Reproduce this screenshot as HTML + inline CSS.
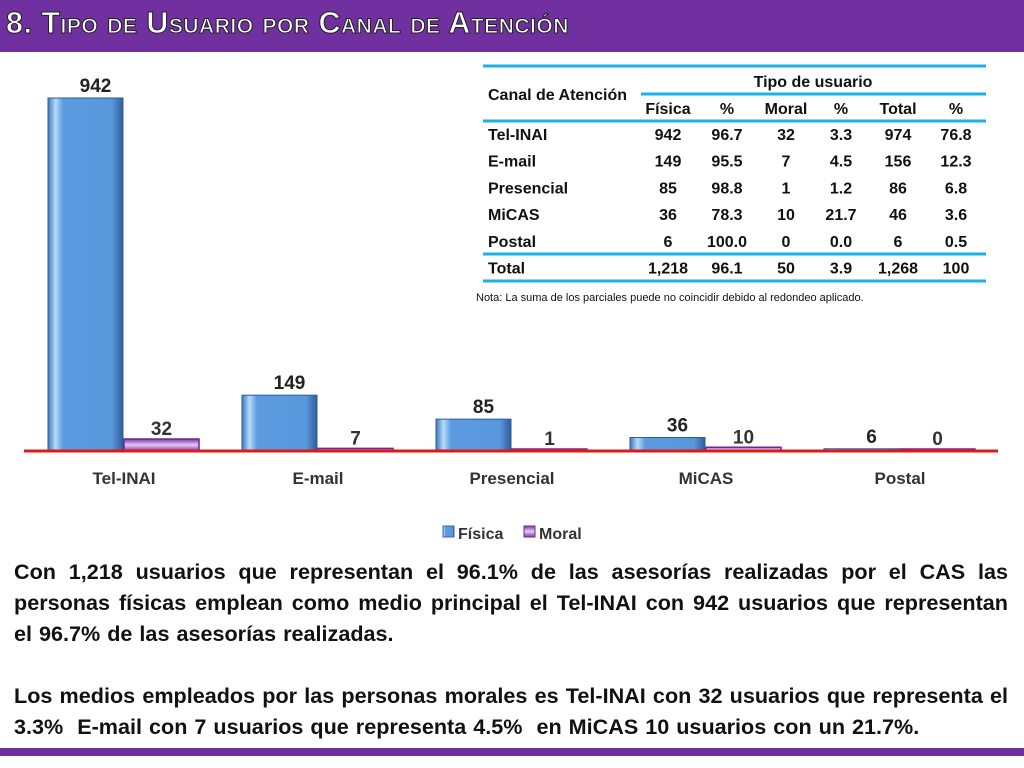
<!DOCTYPE html>
<html><head><meta charset="utf-8"><style>
body{margin:0;width:1024px;height:768px;overflow:hidden;background:#fff;font-family:"Liberation Sans",sans-serif;position:relative}
#title{position:absolute;left:0;top:0;width:1024px;height:52px;background:#7030a0}
#title span{position:absolute;left:6px;top:6px;font:bold 30.5px "Liberation Sans",sans-serif;color:#fff;font-variant:small-caps;-webkit-text-stroke:1px #222;letter-spacing:0.5px}
.para{position:absolute;left:14px;width:994px;font-weight:bold;font-size:21.6px;word-spacing:1px;line-height:31px;text-align:justify;text-align-last:left;color:#111}
.jl{text-align-last:justify}
#bottom{position:absolute;left:0;top:748px;width:1024px;height:8px;background:#7030a0}
</style></head><body>
<div id="title"><span>8. Tipo de Usuario por Canal de Atención</span></div>
<svg id="chart" width="1024" height="560" style="position:absolute;left:0;top:0">
<defs>
<linearGradient id="gb" x1="0" x2="1"><stop offset="0" stop-color="#3a78c0"/><stop offset=".1" stop-color="#b8dcf8"/><stop offset=".2" stop-color="#5b9be0"/><stop offset=".85" stop-color="#5a98dc"/><stop offset="1" stop-color="#2e5e9a"/></linearGradient>
<linearGradient id="gm" x1="0" x2="0" y1="0" y2="1"><stop offset="0" stop-color="#7a3aa0"/><stop offset=".5" stop-color="#e8c8f8"/><stop offset="1" stop-color="#7a3aa0"/></linearGradient>
</defs>
<g id="bars"></g>
<line x1="24" x2="998" y1="451" y2="451" stroke="#e01818" stroke-width="3"/>
<g id="legend">
<rect x="443" y="526" width="11" height="11" fill="url(#gb)" stroke="#3a6aa0"/>
<text x="458" y="539" font-size="16" font-weight="bold" fill="#333">Física</text>
<rect x="524" y="526" width="11" height="11" fill="url(#gm)" stroke="#6a2a90"/>
<text x="539" y="539" font-size="16" font-weight="bold" fill="#333">Moral</text>
</g>
<g id="table">
<line x1="483" x2="986" y1="66" y2="66" stroke="#1ab0e8" stroke-width="3"/>
<line x1="641" x2="986" y1="94" y2="94" stroke="#1ab0e8" stroke-width="3"/>
<line x1="483" x2="986" y1="121" y2="121" stroke="#1ab0e8" stroke-width="3"/>
<line x1="483" x2="986" y1="254" y2="254" stroke="#1ab0e8" stroke-width="3"/>
<line x1="483" x2="986" y1="281" y2="281" stroke="#1ab0e8" stroke-width="3"/>
<text x="488" y="100" font-size="16" font-weight="bold" fill="#111">Canal de Atención</text>
<text x="813" y="87" font-size="16" font-weight="bold" fill="#111" text-anchor="middle">Tipo de usuario</text>
</g>
<text x="476" y="301" font-size="11" fill="#111">Nota: La suma de los parciales puede no coincidir debido al redondeo aplicado.</text>
</svg>
<div class="para jl" style="top:556px">Con 1,218 usuarios que representan el 96.1% de las asesorías realizadas por el CAS las personas físicas emplean como medio principal el Tel-INAI con 942 usuarios que representan</div>
<div class="para" style="top:618px">el 96.7% de las asesorías realizadas.</div>
<div class="para" style="top:680px">Los medios empleados por las personas morales es Tel-INAI con 32 usuarios que representa el 3.3%&nbsp; E-mail con 7 usuarios que representa 4.5%&nbsp; en MiCAS 10 usuarios con un 21.7%.</div>
<div id="bottom"></div>
<script>
const categories=["Tel-INAI","E-mail","Presencial","MiCAS","Postal"];
const fisica=[942,149,85,36,6];
const moral=[32,7,1,10,0];
const rowsLabels=["Tel-INAI","E-mail","Presencial","MiCAS","Postal","Total"];
const tFisica=["942","149","85","36","6","1,218"];
const tFisPct=["96.7","95.5","98.8","78.3","100.0","96.1"];
const tMoral=["32","7","1","10","0","50"];
const tMorPct=["3.3","4.5","1.2","21.7","0.0","3.9"];
const tTotal=["974","156","86","46","6","1,268"];
const tTotPct=["76.8","12.3","6.8","3.6","0.5","100"];
const headers=["Física","%","Moral","%","Total","%"];
const NS="http://www.w3.org/2000/svg";
const base=451, scale=353/942, x0=48, step=194, bw=75;
const yS=v=>base-v*scale;
const xS=i=>x0+i*step;
function mk(tag,attrs,parent){const e=document.createElementNS(NS,tag);for(const k in attrs)e.setAttribute(k,attrs[k]);parent.appendChild(e);return e;}
const bars=document.getElementById('bars');
categories.forEach((c,i)=>{
  const x=xS(i);
  const yf=yS(fisica[i]);
  const r=mk('rect',{x:x,y:yf,width:bw,height:Math.max(base-yf,1),fill:'url(#gb)',stroke:'#2e5e9a','stroke-width':1},bars);
  
  
  const ym=yS(moral[i]);
  const r2=mk('rect',{x:x+bw+1,y:Math.min(ym,base-2),width:bw,height:Math.max(base-ym,2),fill:'url(#gm)',stroke:'#6a2a90','stroke-width':1.5},bars);
  
  
  const t=mk('text',{x:x+bw/2+10,y:yf-6,'font-size':19,'font-weight':'bold',fill:'#222','text-anchor':'middle'},bars);
  t.textContent=fisica[i];
  
  
  const t2=mk('text',{x:x+bw*1.5+1,y:Math.min(ym,base-2)-4,'font-size':19,'font-weight':'bold',fill:'#333','text-anchor':'middle'},bars);
  t2.textContent=moral[i];
  
  
  const cl=mk('text',{x:x+bw+1,y:484,'font-size':17,'font-weight':'bold',fill:'#333','text-anchor':'middle'},bars);
  cl.textContent=c;
  
  
});
const tbl=document.getElementById('table');
const cols=[668,727,786,841,898,956];
headers.forEach((h,j)=>{
  const t=mk('text',{x:cols[j],y:114,'font-size':16,'font-weight':'bold',fill:'#111','text-anchor':'middle'},tbl);
  t.textContent=h;
  
  
});
const colsData=[tFisica,tFisPct,tMoral,tMorPct,tTotal,tTotPct];
rowsLabels.forEach((r,i)=>{
  const y=140+i*26.7;
  const t=mk('text',{x:488,y:y,'font-size':16,'font-weight':'bold',fill:'#111'},tbl);
  t.textContent=r;
  
  
  colsData.forEach((arr,j)=>{
    const c=mk('text',{x:cols[j],y:y,'font-size':16,'font-weight':'bold',fill:'#111','text-anchor':'middle'},tbl);
    c.textContent=arr[i];
    
    
  });
});
</script>
</body></html>
